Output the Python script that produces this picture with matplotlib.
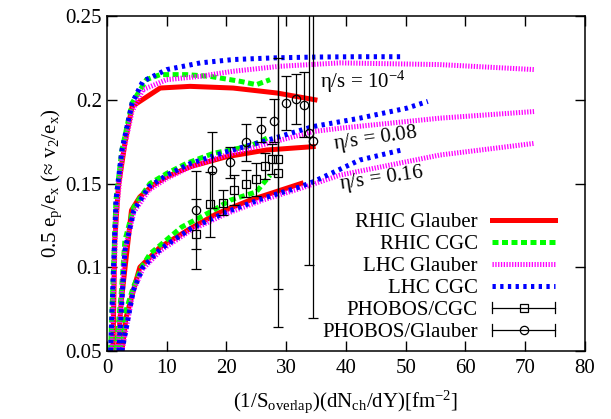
import numpy as np
import matplotlib
matplotlib.use('Agg')
import matplotlib.pyplot as plt
from matplotlib.lines import Line2D
from matplotlib.legend_handler import HandlerBase
from matplotlib.container import ErrorbarContainer

plt.rcParams['font.family'] = ['Liberation Serif', 'DejaVu Serif']
plt.rcParams['mathtext.default'] = 'regular'
plt.rcParams['font.size'] = 15

# curves, one set per eta/s value (1e-4, 0.08, 0.16)
rhic_glauber_x = [[1.0, 1.3, 1.9, 3.0, 4.2, 8.9, 13.9, 21.1, 28.5, 34.8],
                  [1.8, 2.4, 4.1, 5.5, 7.7, 10.0, 13.9, 20.0, 26.7, 34.5],
                  [2.5, 3.2, 4.4, 5.5, 8.9, 13.9, 18.4, 23.9, 32.5]]
rhic_glauber_y = [[0.05, 0.116, 0.148, 0.174, 0.196, 0.207, 0.208, 0.207, 0.204, 0.200],
                  [0.05, 0.080, 0.134, 0.142, 0.149, 0.154, 0.160, 0.166, 0.170, 0.172],
                  [0.05, 0.070, 0.086, 0.100, 0.112, 0.123, 0.132, 0.140, 0.150]]

rhic_cgc_x = [[0.6, 1.5, 2.5, 4.2, 6.6, 8.9, 13.3, 17.2, 22.3, 25.0, 27.3],
              [1.5, 2.4, 3.0, 4.5, 7.2, 10.0, 13.3, 17.8, 23.4, 25.0, 27.3],
              [2.2, 3.0, 4.4, 5.8, 7.2, 12.5, 17.8, 20.6, 25.0, 27.3]]
rhic_cgc_y = [[0.05, 0.140, 0.170, 0.198, 0.212, 0.215, 0.215, 0.214, 0.211, 0.209, 0.212],
              [0.05, 0.085, 0.116, 0.136, 0.150, 0.156, 0.162, 0.168, 0.172, 0.174, 0.178],
              [0.05, 0.072, 0.088, 0.100, 0.108, 0.124, 0.134, 0.140, 0.145, 0.155]]

lhc_glauber_x = [[0.8, 1.5, 2.5, 4.2, 6.0, 10.0, 15.6, 21.1, 29.0, 39.0, 55.7, 71.6],
                 [1.8, 3.0, 4.5, 7.0, 10.0, 14.0, 20.0, 27.0, 34.5, 39.0, 55.7, 71.6],
                 [2.5, 4.4, 6.0, 9.0, 14.0, 20.0, 26.0, 32.3, 39.0, 55.7, 71.6]]
lhc_glauber_y = [[0.05, 0.130, 0.165, 0.193, 0.206, 0.212, 0.214, 0.217, 0.220, 0.222, 0.221, 0.218],
                 [0.05, 0.110, 0.133, 0.146, 0.153, 0.160, 0.167, 0.174, 0.181, 0.183, 0.189, 0.193],
                 [0.05, 0.086, 0.099, 0.110, 0.122, 0.132, 0.140, 0.147, 0.155, 0.167, 0.174]]

lhc_cgc_x = [[0.6, 1.5, 2.5, 4.2, 6.0, 10.0, 15.6, 21.1, 27.8, 35.0, 42.0, 49.3],
             [2.0, 3.0, 4.5, 7.0, 10.0, 14.0, 20.0, 27.0, 34.5, 42.3, 50.2, 53.7],
             [2.5, 4.4, 6.0, 9.0, 14.0, 20.0, 26.0, 32.3, 34.5, 42.3, 49.3]]
lhc_cgc_y = [[0.05, 0.140, 0.170, 0.198, 0.211, 0.218, 0.222, 0.224, 0.225, 0.2255, 0.2257, 0.2257],
             [0.05, 0.110, 0.134, 0.148, 0.155, 0.162, 0.169, 0.176, 0.184, 0.189, 0.195, 0.199],
             [0.05, 0.086, 0.100, 0.111, 0.123, 0.133, 0.141, 0.148, 0.151, 0.164, 0.170]]

# PHOBOS points
phobos_cgc_x = [14.9, 17.3, 19.4, 21.3, 23.2, 24.9, 26.4, 27.7, 28.7, 28.7]
phobos_cgc_y = [0.120, 0.1375, 0.1386, 0.146, 0.150, 0.1525, 0.1604, 0.1644, 0.1644, 0.1561]
phobos_cgc_err = [0.021, 0.0195, 0.0077, 0.009, 0.008, 0.010, 0.008, 0.009, 0.100, 0.069]

phobos_gl_x = [14.9, 17.5, 20.6, 23.2, 25.8, 28.0, 30.0, 31.6, 32.9, 33.8, 34.4]
phobos_gl_y = [0.134, 0.158, 0.1627, 0.1746, 0.1823, 0.1875, 0.1982, 0.2004, 0.197, 0.1803, 0.1756]
phobos_gl_err = [0.0233, 0.0225, 0.0093, 0.011, 0.0073, 0.0128, 0.016, 0.015, 0.0195, 0.079, 0.106]

xticks = [0, 10, 20, 30, 40, 50, 60, 70, 80]
yticks = [0.05, 0.1, 0.15, 0.2, 0.25]
ytick_labels = ['0.05', '0.1', '0.15', '0.2', '0.25']


class HBarHandler(HandlerBase):
    # gnuplot style key entry: horizontal bar with end caps and the point symbol
    def create_artists(self, legend, orig_handle, xdescent, ydescent,
                       width, height, fontsize, trans):
        y = height / 2 - ydescent
        x0, x1 = -xdescent, -xdescent + width
        c = 4
        bar = Line2D([x0, x1], [y, y], color='k', lw=0.9)
        caps = Line2D([x0, x0, np.nan, x1, x1], [y - c, y + c, np.nan, y - c, y + c],
                      color='k', lw=0.9)
        src = orig_handle[0]
        mark = Line2D([(x0 + x1) / 2], [y], ls='none', marker=src.get_marker(),
                      ms=src.get_markersize(), mfc='none', mec='k', mew=0.9)
        for a in (bar, caps, mark):
            a.set_transform(trans)
        return [bar, caps, mark]


fig = plt.figure(figsize=(6.11, 4.19), dpi=100)
ax = fig.add_axes([0.1751, 0.1623, 0.7823, 0.7995])

lw = 3.6
for i in range(3):
    ax.plot(rhic_glauber_x[i], rhic_glauber_y[i], color='#ff0000', lw=lw,
            label='RHIC Glauber' if i == 0 else None)
for i in range(3):
    ax.plot(rhic_cgc_x[i], rhic_cgc_y[i], color='#00ff00', lw=lw, dashes=(1.2, 0.7),
            label='RHIC CGC' if i == 0 else None)
for i in range(3):
    ax.plot(lhc_glauber_x[i], lhc_glauber_y[i], color='#ff00ff', lw=lw, dashes=(0.26, 0.3),
            label='LHC Glauber' if i == 0 else None)
for i in range(3):
    ax.plot(lhc_cgc_x[i], lhc_cgc_y[i], color='#0000ff', lw=lw, dashes=(0.66, 0.88),
            label='LHC CGC' if i == 0 else None)

ax.errorbar(phobos_cgc_x, phobos_cgc_y, yerr=phobos_cgc_err, fmt='s', ms=6,
            mfc='none', mec='k', mew=0.9, ecolor='k', elinewidth=0.9, capsize=3.5,
            capthick=0.9, label='PHOBOS/CGC')
ax.errorbar(phobos_gl_x, phobos_gl_y, yerr=phobos_gl_err, fmt='o', ms=6,
            mfc='none', mec='k', mew=0.9, ecolor='k', elinewidth=0.9, capsize=3.5,
            capthick=0.9, label='PHOBOS/Glauber')

ax.text(35.6, 0.2106, r'$\eta$/s = 10$^{-4}$', fontsize=15, va='center', ha='left')
ax.text(44.9, 0.1766, r'$\eta$/s = 0.08', fontsize=15, va='center', ha='center', rotation=8)
ax.text(45.9, 0.153, r'$\eta$/s = 0.16', fontsize=15, va='center', ha='center', rotation=8)

ax.set_xlim(0, 80)
ax.set_ylim(0.05, 0.25)
ax.set_xticks(xticks)
ax.set_yticks(yticks)
ax.set_yticklabels(ytick_labels)
ax.tick_params(direction='in', length=7, width=1, top=True, right=True, labelsize=15)
ax.tick_params(axis='x', pad=6)
for s in ax.spines.values():
    s.set_linewidth(1.1)

ax.set_xlabel('(1/S$_{overlap}$)(dN$_{ch}$/dY)[fm$^{-2}$]', fontsize=15, labelpad=7)
ax.set_ylabel('0.5 e$_p$/e$_x$ (≈ v$_2$/e$_x$)', fontsize=15, labelpad=1)

leg = ax.legend(loc='lower right', bbox_to_anchor=(0.937, 0.026), frameon=False,
                markerfirst=False, handlelength=3.0, handletextpad=0.7,
                labelspacing=0.12, borderpad=0, borderaxespad=0, fontsize=15,
                handler_map={ErrorbarContainer: HBarHandler()})

plt.savefig('out.png', dpi=100)
